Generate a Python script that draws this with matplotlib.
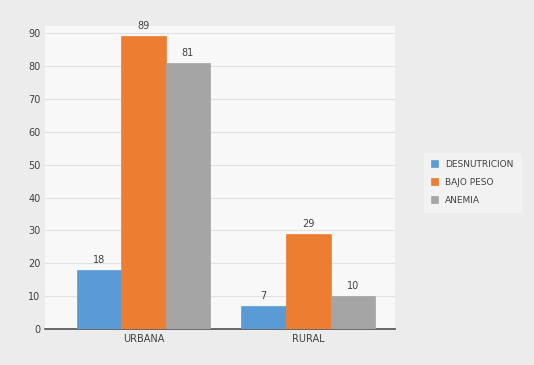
import matplotlib.pyplot as plt
import numpy as np

categories = ["URBANA", "RURAL"]
series = ["DESNUTRICION", "BAJO PESO", "ANEMIA"]
desnutricion = [18, 7]
bajo_peso = [89, 29]
anemia = [81, 10]
colors = ["#5b9bd5", "#ed7d31", "#a5a5a5"]

fig = plt.figure(figsize=(5.34, 3.65), dpi=100, facecolor="#ececec")
ax = fig.add_axes([0.085, 0.098, 0.655, 0.83], facecolor="#f8f8f8")

x = np.arange(len(categories))
w = 0.27
for i, (vals, c, name) in enumerate(zip([desnutricion, bajo_peso, anemia], colors, series)):
    pos = x + (i - 1) * w
    bars = ax.bar(pos, vals, w, color=c, edgecolor=c, linewidth=0.5, label=name, zorder=3)
    for b, v in zip(bars, vals):
        ax.text(b.get_x() + b.get_width() / 2, v + 1.5, str(v), ha="center", va="bottom",
                fontsize=7, color="#404040", zorder=4)

ax.set_xlim(-0.594, 1.527)
ax.set_ylim(0, 92)
ax.set_yticks(np.arange(0, 91, 10))
ax.set_xticks(x)
ax.set_xticklabels(categories)
ax.tick_params(axis="both", length=0, labelsize=7, colors="#404040")
ax.yaxis.grid(True, color="#e2e2e2", linewidth=0.8, zorder=0)
for s in ["top", "right", "left"]:
    ax.spines[s].set_visible(False)
ax.spines["bottom"].set_color("#505050")
ax.spines["bottom"].set_linewidth(1.2)

leg = fig.legend(loc="center left", bbox_to_anchor=(0.785, 0.5), fontsize=6.5, frameon=True,
                 handlelength=0.8, handleheight=0.8, labelspacing=1.0, borderpad=0.8)
leg.get_frame().set_facecolor("#f4f4f4")
leg.get_frame().set_edgecolor("#f4f4f4")
for t in leg.get_texts():
    t.set_color("#404040")

fig.savefig("out.png", dpi=100, facecolor=fig.get_facecolor())
